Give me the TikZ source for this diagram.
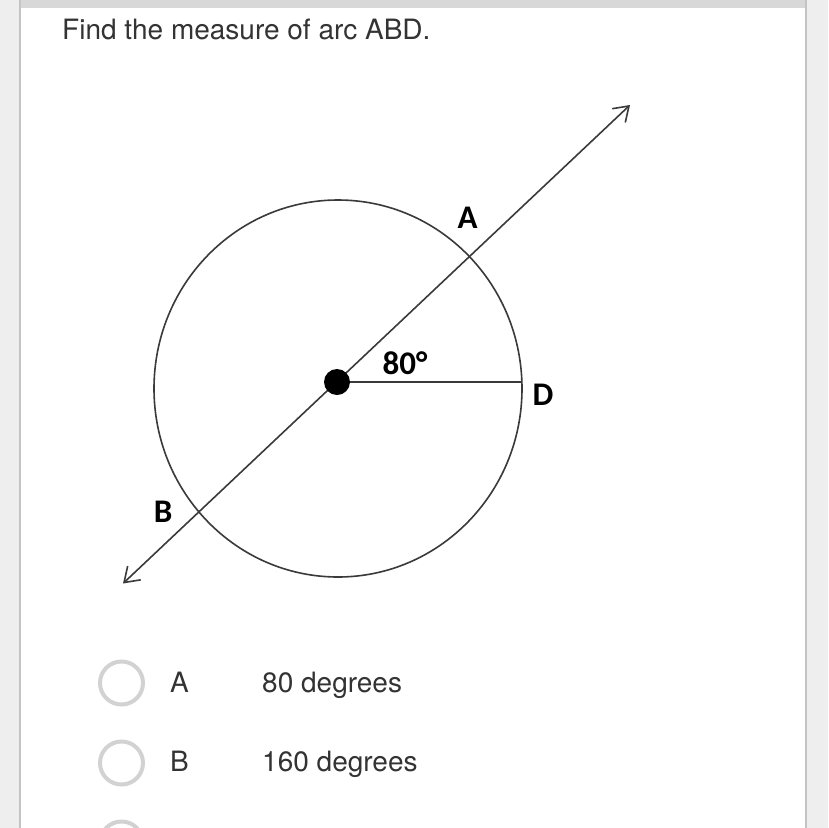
\documentclass[tikz,border=0pt]{standalone}
\usepackage{fontspec}
\setmainfont{TeX Gyre Heros}
\newfontfamily\labelfont{Carlito}
\usetikzlibrary{arrows.meta}
\definecolor{pagegray}{HTML}{EEEEEE}
\definecolor{bargray}{HTML}{D8D8D8}
\definecolor{edgegray}{HTML}{C4C4C4}
\definecolor{radiogray}{HTML}{D2D2D2}
\definecolor{inkgray}{HTML}{333333}
\definecolor{linegray}{HTML}{3A3A3A}
\tikzset{
  qtext/.style={anchor=base west, inner sep=0pt, text=inkgray, font=\fontsize{28}{34}\selectfont},
  glabel/.style={inner sep=0pt, text=black, font=\labelfont\bfseries\fontsize{33}{38}\selectfont},
  geoline/.style={draw=linegray, line width=1.6pt},
  radio/.style={draw=radiogray, line width=4pt, circle, minimum size=43pt, inner sep=0pt},
  barb/.style={{Straight Barb[length=14pt,width=19pt,line width=1.6pt]}-{Straight Barb[length=14pt,width=19pt,line width=1.6pt]}}
}
\begin{document}
\begin{tikzpicture}[x=1pt,y=-1pt]
\useasboundingbox (0,0) rectangle (828,828);
\clip (0,0) rectangle (828,828);
% page background
\fill[pagegray] (0,0) rectangle (828,828);
\fill[white] (20,8) rectangle (806,828);
\fill[bargray] (20,0) rectangle (807,8);
\draw[edgegray, line width=2pt] (20,0) -- (20,828);
\draw[edgegray, line width=2pt] (806,0) -- (806,828);
% question
\node[qtext] (q) at (62,39) {Find the measure of arc ABD.};
% geometry
\coordinate (C) at (338,388.5);
\coordinate (O) at (337,382);
\coordinate (D) at (521.5,382);
\coordinate (P) at (630,105);
\coordinate (Q) at (123,583.5);
\draw[geoline] (C) ellipse [x radius=184pt, y radius=188.5pt];
\draw[geoline, barb] (Q) -- (P);
\draw[geoline] (O) -- (D);
\node[circle, fill=black, minimum size=26pt, inner sep=0pt] (dot) at (O) {};
\node[glabel] (lA) at (467.5,218) {A};
\node[glabel] (lB) at (163,511.5) {B};
\node[glabel] (lD) at (543,395) {D};
\node[glabel] (ang) at (405,363) {80°};
% answer options
\node[radio] (r1) at (121.5,683) {};
\node[radio] (r2) at (121.5,763) {};
\node[radio] (r3) at (121.5,843) {};
\node[qtext] (oA) at (170,692) {A};
\node[qtext] (tA) at (262,692) {80 degrees};
\node[qtext] (oB) at (170,771) {B};
\node[qtext] (tB) at (262,771) {160 degrees};
\end{tikzpicture}
\end{document}
